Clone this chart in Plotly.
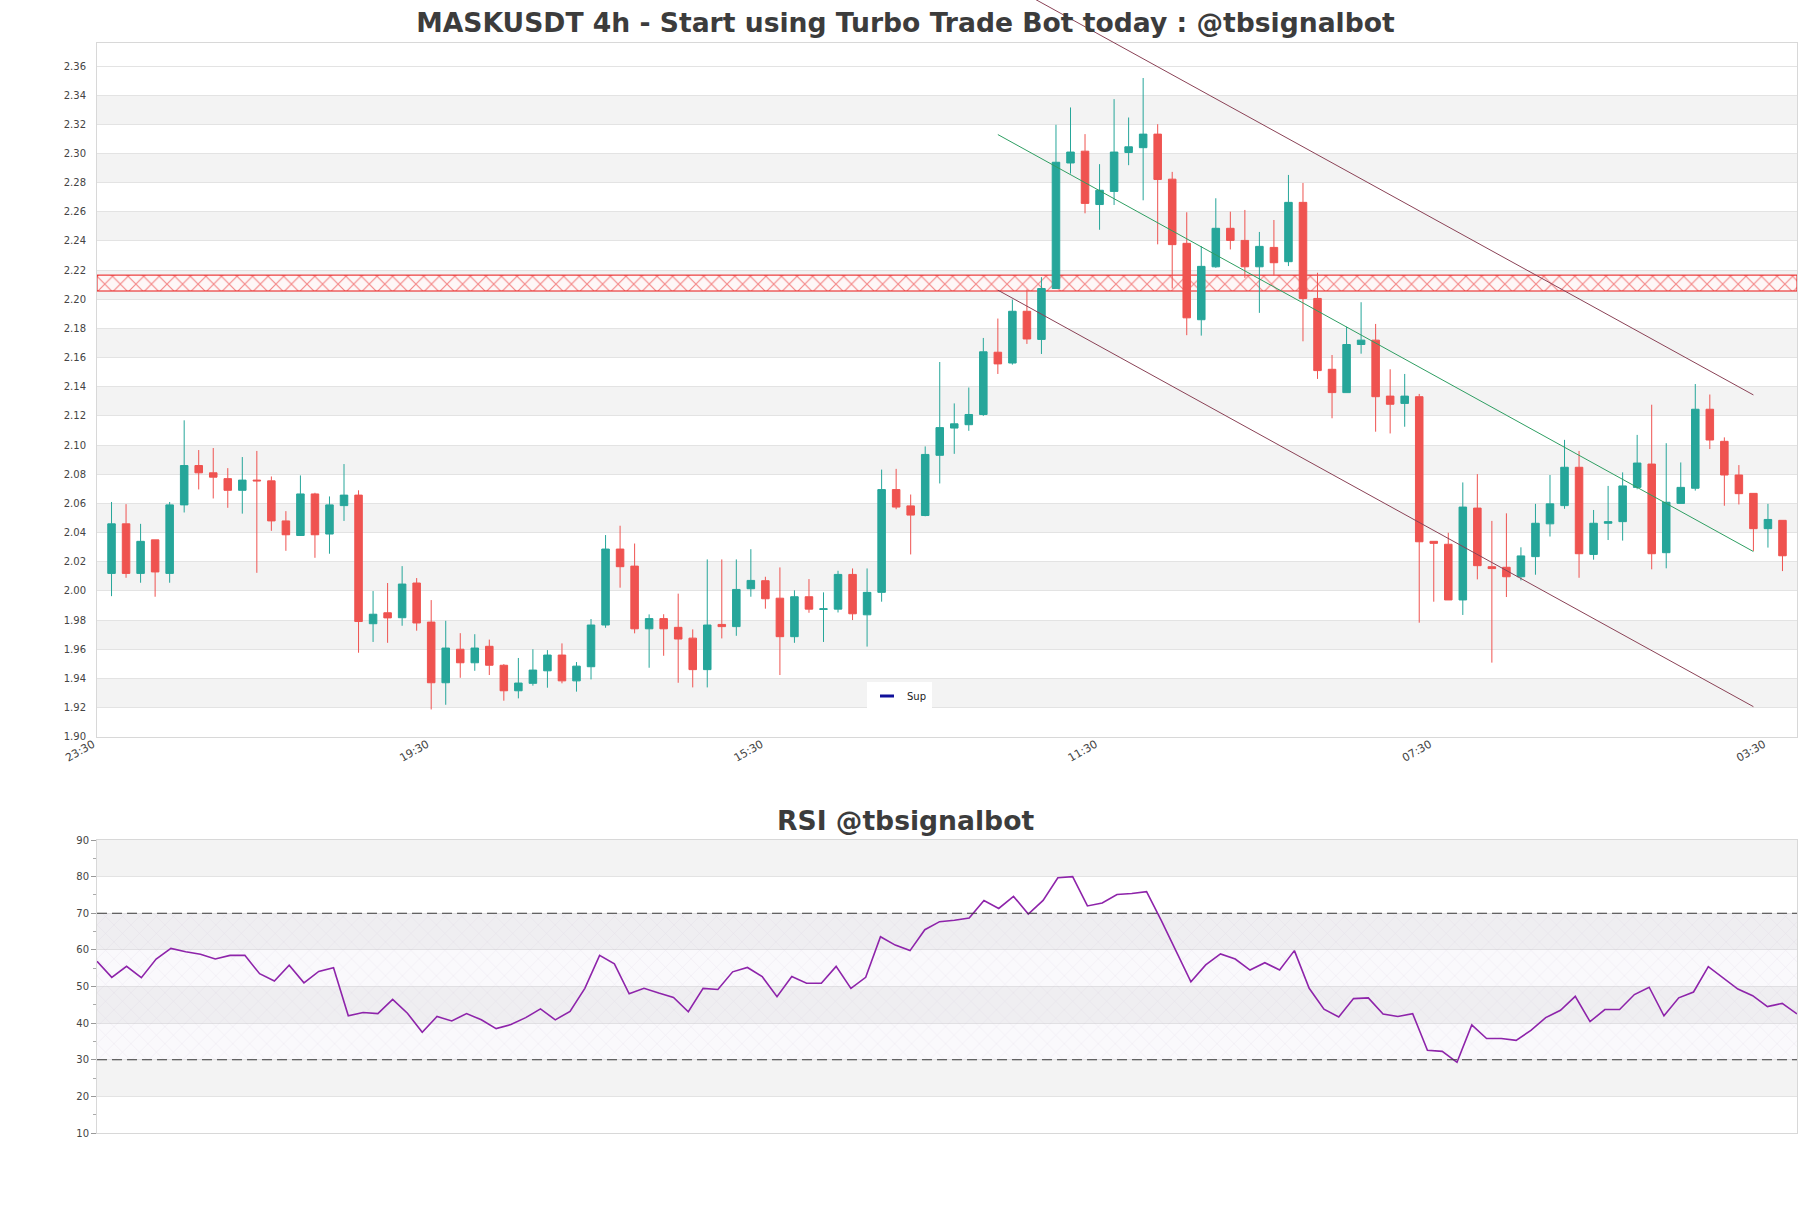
import pandas as pd
import plotly.graph_objects as go

# ---------------- data ----------------
times = pd.date_range("2024-05-01 03:30", periods=116, freq="4h")

open_ = [2.012, 2.046, 2.012, 2.035, 2.012, 2.059, 2.086, 2.081, 2.077, 2.069,
         2.076, 2.0755, 2.048, 2.038, 2.0665, 2.039, 2.0585, 2.0657, 1.9775, 1.985,
         1.9816, 2.0054, 1.9786, 1.937, 1.960, 1.9507, 1.962, 1.949, 1.9315, 1.9366,
         1.9452, 1.956, 1.9383, 1.948, 1.9766, 2.0287, 2.017, 1.974, 1.981, 1.975,
         1.9676, 1.946, 1.977, 1.9755, 2.0015, 2.007, 1.995, 1.9686, 1.996, 1.9873,
         1.9875, 2.0113, 1.9836, 1.999, 2.0695, 2.0583, 2.0517, 2.093, 2.1117, 2.114,
         2.121, 2.1637, 2.1563, 2.1918, 2.1725, 2.2074, 2.2935, 2.3016, 2.265, 2.274,
         2.3007, 2.304, 2.3133, 2.2824, 2.2384, 2.186, 2.2223, 2.2487, 2.2404, 2.2223,
         2.2356, 2.2258, 2.2665, 2.2006, 2.152, 2.136, 2.169, 2.172, 2.1336, 2.1286,
         2.1332, 2.034, 2.032, 1.9938, 2.0568, 2.0166, 2.0162, 2.0097, 2.0235, 2.046,
         2.0585, 2.0848, 2.025, 2.0464, 2.0475, 2.071, 2.087, 2.0262, 2.06, 2.0704,
         2.1246, 2.1026, 2.0795, 2.0669, 2.0427, 2.0484]

close = [2.046, 2.012, 2.034, 2.013, 2.059, 2.086, 2.081, 2.078, 2.069, 2.076,
         2.0755, 2.048, 2.0385, 2.0665, 2.0385, 2.059, 2.0657, 1.979, 1.984, 1.9815,
         2.0047, 1.978, 1.937, 1.9608, 1.9507, 1.9608, 1.949, 1.9315, 1.9368, 1.9457,
         1.956, 1.9383, 1.9484, 1.9766, 2.0287, 2.0166, 1.974, 1.981, 1.974, 1.967,
         1.946, 1.9766, 1.9755, 2.001, 2.0072, 1.9946, 1.9686, 1.996, 1.9875, 1.9877,
         2.0113, 1.9843, 1.999, 2.0695, 2.0575, 2.052, 2.0936, 2.112, 2.1146, 2.121,
         2.164, 2.1557, 2.1918, 2.1728, 2.2074, 2.294, 2.301, 2.2658, 2.2748, 2.301,
         2.3046, 2.3133, 2.2822, 2.2375, 2.1873, 2.2226, 2.2487, 2.2404, 2.2223, 2.2363,
         2.2251, 2.2665, 2.2006, 2.1511, 2.136, 2.169, 2.172, 2.1332, 2.128, 2.1336,
         2.0337, 2.0326, 1.9938, 2.0575, 2.0173, 2.0153, 2.0097, 2.024, 2.0464, 2.0597,
         2.0848, 2.0255, 2.0464, 2.0475, 2.072, 2.0877, 2.0255, 2.0608, 2.071, 2.1246,
         2.1035, 2.0795, 2.0667, 2.0427, 2.049, 2.0241]

high = [2.061, 2.0595, 2.046, 2.035, 2.061, 2.117, 2.0966, 2.098, 2.0842, 2.0918,
        2.096, 2.0785, 2.0547, 2.0792, 2.0673, 2.0648, 2.087, 2.069, 1.9999, 2.0054,
        2.017, 2.0088, 1.9937, 1.9795, 1.971, 1.9703, 1.9666, 1.9498, 1.954, 1.96,
        1.9594, 1.964, 1.9512, 1.9807, 2.0383, 2.0447, 2.0325, 1.9839, 1.984, 1.9981,
        1.9736, 2.0216, 2.0216, 2.0216, 2.0286, 2.0097, 2.0161, 2.0004, 2.0081, 1.999,
        2.0138, 2.0154, 2.0154, 2.0832, 2.0837, 2.0661, 2.0991, 2.157, 2.1286, 2.1395,
        2.1735, 2.1868, 2.1998, 2.2067, 2.2152, 2.3197, 2.3316, 2.3133, 2.2927, 2.3373,
        2.3247, 2.3518, 2.3201, 2.2874, 2.2597, 2.2365, 2.2693, 2.2601, 2.2613, 2.2462,
        2.2544, 2.2853, 2.2798, 2.2182, 2.1618, 2.1812, 2.198, 2.1831, 2.152, 2.1488,
        2.1351, 2.034, 2.0399, 2.0744, 2.0801, 2.048, 2.0532, 2.0299, 2.0597, 2.0795,
        2.1036, 2.096, 2.0555, 2.072, 2.0813, 2.107, 2.1277, 2.1013, 2.0881, 2.1419,
        2.1347, 2.1053, 2.0863, 2.0669, 2.0597, 2.0484]

low = [1.9964, 2.009, 2.0056, 1.996, 2.0056, 2.0538, 2.0696, 2.0634, 2.057, 2.053,
       2.0124, 2.0412, 2.0275, 2.0378, 2.0227, 2.0255, 2.048, 1.9576, 1.965, 1.9644,
       1.9761, 1.9727, 1.9187, 1.9219, 1.9404, 1.9452, 1.9423, 1.9247, 1.9263, 1.935,
       1.9336, 1.9366, 1.9309, 1.9393, 1.9747, 2.0022, 1.9709, 1.9473, 1.9555, 1.937,
       1.9338, 1.9338, 1.9674, 1.9692, 1.996, 1.9878, 1.9423, 1.9644, 1.985, 1.965,
       1.9852, 1.98, 1.9618, 1.9926, 2.056, 2.025, 2.0512, 2.0737, 2.094, 2.1098,
       2.120, 2.1488, 2.1552, 2.1694, 2.1625, 2.2074, 2.2862, 2.259, 2.2477, 2.2647,
       2.292, 2.2679, 2.2377, 2.2074, 2.1754, 2.1751, 2.2216, 2.2342, 2.2147, 2.1907,
       2.2163, 2.2228, 2.1712, 2.1454, 2.1184, 2.136, 2.1627, 2.1092, 2.108, 2.1126,
       1.9782, 1.9926, 1.9938, 1.9835, 2.0079, 1.9508, 1.9958, 2.0072, 2.0111, 2.0373,
       2.0563, 2.009, 2.0214, 2.0349, 2.0345, 2.0697, 2.0148, 2.0155, 2.06, 2.0688,
       2.0973, 2.0584, 2.0593, 2.0274, 2.0297, 2.0136]

rsi = [56.9, 52.5, 55.5, 52.4, 57.5, 60.4, 59.5, 58.8, 57.5, 58.5,
       58.5, 53.5, 51.5, 55.8, 51.0, 54.1, 55.1, 42.0, 42.9, 42.6,
       46.5, 42.7, 37.5, 41.8, 40.6, 42.6, 40.9, 38.5, 39.6, 41.5,
       43.9, 40.9, 43.2, 49.5, 58.5, 56.2, 48.0, 49.5, 48.2, 47.0,
       43.1, 49.5, 49.2, 54.0, 55.2, 52.7, 47.2, 52.7, 50.9, 50.9,
       55.5, 49.5, 52.5, 63.6, 61.3, 59.8, 65.5, 67.7, 68.1, 68.7,
       73.5, 71.3, 74.6, 69.8, 73.5, 79.7, 80.0, 72.0, 72.8, 75.1,
       75.4, 75.9, 68.0, 59.5, 51.3, 55.9, 58.9, 57.5, 54.5, 56.5,
       54.5, 59.8, 49.5, 43.8, 41.7, 46.7, 46.9, 42.5, 41.8, 42.6,
       32.6, 32.3, 29.3, 39.5, 35.8, 35.8, 35.3, 38.0, 41.5, 43.5,
       47.3, 40.4, 43.7, 43.7, 47.8, 49.8, 42.0, 46.9, 48.5, 55.4,
       52.4, 49.3, 47.5, 44.5, 45.4, 42.5]

tick_labels = ["23:30", "19:30", "15:30", "11:30", "07:30", "03:30"]
tick_every = 23            # candles between labelled ticks

zone = [2.2057, 2.2166]    # hatched resistance zone
channel_idx = [61, 113]
channel_upper = [2.4199, 2.1344]
channel_mid = [2.313, 2.027]
channel_lower = [2.2063, 1.9206]

rsi_levels = [30, 70]

# ---------------- geometry / style ----------------
W, H = 1811, 1208
ML, MR, MT, MB = 97, 14, 0, 75
PH = H - MT - MB


def frac(px):
    return (H - MB - px) / PH


main_dom = [frac(736.7), frac(43)]
rsi_dom = [0, frac(840)]
YMIN, YMAX = 1.90, 2.3758
y3_top = YMIN + (YMAX - YMIN) * (1 - main_dom[0]) / (main_dom[1] - main_dom[0])

GREEN, RED = "#26a69a", "#ef5350"
BAND = "#f3f3f3"
GRID = "#e3e3e3"
FRAME = "#d8d8d8"
TXT = "#444444"
BROWN = "#8a4256"
step = pd.Timedelta(hours=4)
x_lo, x_hi = times[0] - step, times[-1] + step
tickvals = [x_lo + k * tick_every * step for k in range(len(tick_labels))]

fig = go.Figure()

# zone (on base axis, below candles)
fig.add_trace(go.Scatter(
    x=[x_lo, x_hi, x_hi, x_lo, x_lo], y=[zone[0], zone[0], zone[1], zone[1], zone[0]],
    mode="lines", fill="toself", fillcolor="rgba(255,250,250,0.9)",
    fillpattern=dict(shape="x", fgcolor="rgb(232,20,20)", bgcolor="rgba(255,248,248,0.9)",
                     size=11, solidity=0.2),
    line=dict(color="rgb(232,20,20)", width=1), showlegend=False, hoverinfo="skip",
    xaxis="x", yaxis="y"))

fig.add_trace(go.Scatter(x=[None], y=[None], name="Sup", mode="markers",
                         marker=dict(symbol="line-ew", size=10, color="#10109a",
                                     line=dict(color="#10109a", width=3)),
                         xaxis="x", yaxis="y"))

# candles + channel on overlay axis (drawn above zone)
fig.add_trace(go.Candlestick(
    x=times, open=open_, high=high, low=low, close=close,
    increasing=dict(line=dict(color=GREEN, width=1), fillcolor=GREEN),
    decreasing=dict(line=dict(color=RED, width=1), fillcolor=RED),
    whiskerwidth=0, showlegend=False, xaxis="x", yaxis="y4"))

cx = [times[i] for i in channel_idx]
fig.add_trace(go.Scatter(x=cx, y=channel_mid, mode="lines", line=dict(color="#2e9e62", width=1),
                         showlegend=False, xaxis="x", yaxis="y4"))
fig.add_trace(go.Scatter(x=cx, y=channel_lower, mode="lines", line=dict(color=BROWN, width=1),
                         showlegend=False, xaxis="x", yaxis="y4"))
fig.add_trace(go.Scatter(x=cx, y=channel_upper, mode="lines", line=dict(color=BROWN, width=1),
                         showlegend=False, xaxis="x", yaxis="y3"))

# RSI
fig.add_trace(go.Scatter(
    x=[times[0], times[-1], times[-1], times[0], times[0]],
    y=[rsi_levels[0], rsi_levels[0], rsi_levels[1], rsi_levels[1], rsi_levels[0]],
    mode="lines", fill="toself", fillcolor="rgba(200,185,220,0.12)",
    fillpattern=dict(shape="x", fgcolor="rgba(150,130,175,0.38)", bgcolor="rgba(215,205,230,0.12)",
                     size=12, solidity=0.06),
    line=dict(width=0), showlegend=False, hoverinfo="skip", xaxis="x2", yaxis="y2"))
fig.add_trace(go.Scatter(x=times, y=rsi, mode="lines", line=dict(color="#8e24aa", width=1.6),
                         showlegend=False, xaxis="x2", yaxis="y2"))

shapes = []
g = 1.92
while g < 2.34:
    shapes.append(dict(type="rect", xref="x domain", yref="y", x0=0, x1=1, y0=g, y1=g + 0.02,
                       fillcolor=BAND, line=dict(width=0), layer="below"))
    g += 0.04
for lo in (20, 40, 60, 80):
    shapes.append(dict(type="rect", xref="x2 domain", yref="y2", x0=0, x1=1, y0=lo, y1=lo + 10,
                       fillcolor=BAND, line=dict(width=0), layer="below"))
for lv in rsi_levels:
    shapes.append(dict(type="line", xref="x2 domain", yref="y2", x0=0, x1=1, y0=lv, y1=lv,
                       line=dict(color="#3a3a3a", width=1.2, dash="10px,5px"), layer="above"))

tickfont = dict(family="DejaVu Sans", size=10, color=TXT)
title_font = dict(family="DejaVu Sans", size=26.6, color="#3c3c3c")
xc = (W / 2 - ML) / (W - ML - MR)
xleg = (W / 2 - 6 - ML) / (W - ML - MR)

fig.update_layout(
    width=W, height=H, margin=dict(l=ML, r=MR, t=MT, b=MB, autoexpand=False),
    paper_bgcolor="white", plot_bgcolor="rgba(0,0,0,0)",
    boxgap=0.26,
    title=dict(text="<b>MASKUSDT 4h - Start using Turbo Trade Bot today : @tbsignalbot</b>",
               font=title_font, x=0.5, xanchor="center", y=1 - 23 / H, yanchor="middle",
               automargin=False),
    annotations=[dict(text="<b>RSI @tbsignalbot</b>", xref="paper", yref="paper",
                      x=xc, y=frac(820), xanchor="center", yanchor="middle",
                      showarrow=False, font=title_font)],
    shapes=shapes,
    showlegend=True,
    legend=dict(x=xleg, xanchor="center", y=frac(696), yanchor="middle",
                bgcolor="white", font=dict(family="DejaVu Sans", size=10, color="#222"),
                borderwidth=0, itemwidth=30),
    xaxis=dict(domain=[0, 1], anchor="y", type="date", range=[x_lo, x_hi], automargin=False,
               tickmode="array", tickvals=tickvals, ticktext=tick_labels, tickangle=-30,
               tickfont=dict(family="DejaVu Sans", size=11, color=TXT),
               ticklabelshift=-4, ticklabelstandoff=-4,
               showgrid=False, showline=True, mirror=True, linecolor=FRAME,
               ticks="", rangeslider=dict(visible=False), zeroline=False),
    yaxis=dict(domain=main_dom, anchor="x", range=[YMIN, YMAX], tick0=1.90, dtick=0.02,
               automargin=False,
               tickformat=".2f", showgrid=True, gridcolor=GRID, showline=True, mirror=True,
               linecolor=FRAME, ticks="", tickfont=tickfont, zeroline=False, ticklabelstandoff=8),
    yaxis4=dict(overlaying="y", anchor="x", range=[YMIN, YMAX], visible=False, showgrid=False,
                automargin=False),
    yaxis3=dict(domain=[main_dom[0], 1], anchor="x", range=[YMIN, y3_top], visible=False,
                showgrid=False, automargin=False),
    xaxis2=dict(domain=[0, 1], anchor="y2", type="date", range=[times[0], times[-1]],
                automargin=False,
                showticklabels=False, showgrid=False, showline=True, mirror=True, linecolor=FRAME,
                ticks="", zeroline=False),
    yaxis2=dict(domain=rsi_dom, anchor="x2", range=[10, 90], tick0=10, dtick=10,
                automargin=False,
                showgrid=True, gridcolor=GRID, showline=True, mirror=True, linecolor=FRAME,
                ticks="outside", ticklen=5, tickcolor="#999", tickfont=tickfont, zeroline=False,
                minor=dict(ticks="outside", ticklen=3, dtick=5, tickcolor="#aaa", showgrid=False)),
)

fig.write_html("out.html")
